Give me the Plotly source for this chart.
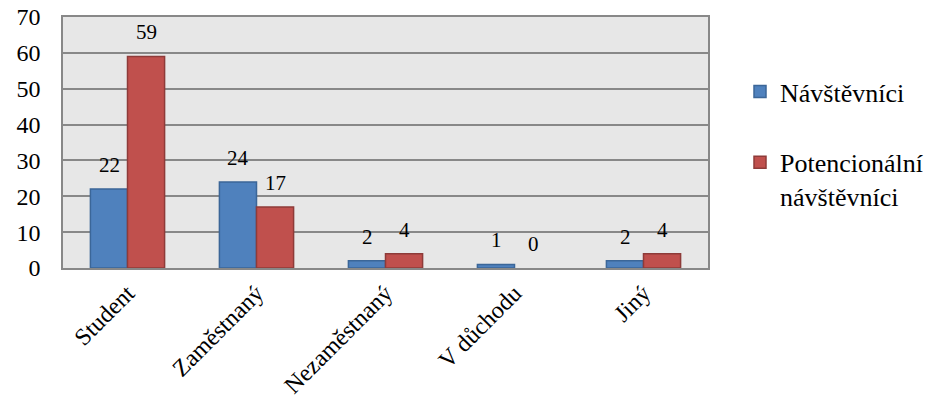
import plotly.graph_objects as go

categories = ["Student", "Zaměstnaný", "Nezaměstnaný", "V důchodu", "Jiný"]
navstevnici = [22, 24, 2, 1, 2]
potencionalni = [59, 17, 4, 0, 4]
series_names = ["Návštěvníci", "Potencionální<br>návštěvníci"]
y_ticks = [0, 10, 20, 30, 40, 50, 60, 70]

FONT = "Liberation Serif"

fig = go.Figure()
fig.add_trace(go.Bar(
    x=categories, y=navstevnici, name=series_names[0],
    marker=dict(color="#4F81BD",
                line=dict(color="#3B6698", width=[1.5 if v else 0 for v in navstevnici])),
    legendgroup="a",
))
fig.add_trace(go.Bar(
    x=categories, y=potencionalni, name=series_names[1],
    marker=dict(color="#C0504D",
                line=dict(color="#8E3B39", width=[1.5 if v else 0 for v in potencionalni])),
    legendgroup="b",
))

for cat, v in zip(categories, navstevnici):
    fig.add_annotation(x=cat, y=v, text=str(v), showarrow=False,
                       xshift=-18.5, yshift=10, yanchor="bottom",
                       font=dict(family=FONT, size=21, color="#000"))
for cat, v in zip(categories, potencionalni):
    fig.add_annotation(x=cat, y=v, text=str(v), showarrow=False,
                       xshift=18.5, yshift=10, yanchor="bottom",
                       font=dict(family=FONT, size=21, color="#000"))

W, H = 939, 418
fig.update_layout(
    width=W, height=H,
    margin=dict(l=63, r=231, t=17, b=150, autoexpand=False),
    paper_bgcolor="white",
    plot_bgcolor="#E7E7E7",
    barmode="group",
    bargap=0.425,
    bargroupgap=0,
    font=dict(family=FONT, size=24, color="#000"),
    showlegend=True,
    legend=dict(
        xref="container", yref="container",
        x=740 / W, y=1 - 68 / H,
        xanchor="left", yanchor="top",
        font=dict(family=FONT, size=26, color="#000"),
        traceorder="grouped", tracegroupgap=34,
        valign="top",
        itemwidth=30,
        bgcolor="rgba(0,0,0,0)",
    ),
    xaxis=dict(
        tickangle=-45, automargin=False,
        showline=True, linecolor="#888888", linewidth=1.5, mirror=True,
        showgrid=False, ticks="",
        tickfont=dict(family=FONT, size=24),
    ),
    yaxis=dict(
        range=[0, 70], tickvals=y_ticks, automargin=False,
        showgrid=True, gridcolor="#888888", gridwidth=1.5,
        showline=True, linecolor="#888888", linewidth=1.5, mirror=True,
        ticks="", zeroline=False, ticklabelstandoff=16,
        ticklabeloverflow="allow",
        tickfont=dict(family=FONT, size=24),
    ),
)

fig.write_html("out.html", config={"displayModeBar": False},
               post_script="document.body.style.margin='0';")
